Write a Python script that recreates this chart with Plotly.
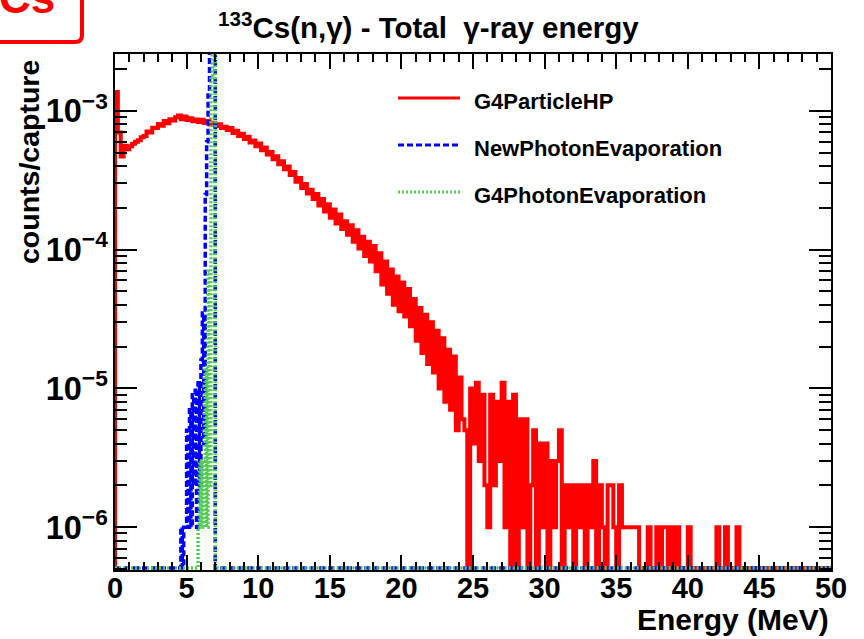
import plotly.graph_objects as go

# ---------------- data (counts/capture, in units of 1e-6) ----------------
UNIT = 1e-6
SERIES_NAMES = ["G4ParticleHP", "NewPhotonEvaporation", "G4PhotonEvaporation"]

# G4ParticleHP : 0.2 MeV bins from 0 to 50 MeV
RED_START = 0.0
RED_BIN = 0.2
RED_VALUES = [
    1370, 700, 470, 560, 530, 555, 580, 600, 615, 645,      # 0-2
    660, 710, 700, 755, 752, 805, 782, 845, 815, 870,       # 2-4
    852, 900, 925, 872, 910, 858, 884, 842, 868, 832,       # 4-6
    865, 818, 845, 798, 820, 778, 800, 752, 768, 728,       # 6-8
    752, 694, 720, 660, 684, 628, 650, 592, 612, 556,       # 8-10
    582, 520, 545, 484, 506, 449, 471, 412, 434, 380,       # 10-12
    397, 345, 363, 308, 328, 278, 297, 254, 270, 232,       # 12-14
    252, 208, 232, 188, 212, 170, 195, 154, 179, 141,       # 14-16
    160, 128, 150, 114, 138, 102, 124, 90, 114, 82,         # 16-18
    106, 70, 94, 56, 82, 48, 72, 40, 64, 36,                # 18-20
    58, 33, 52, 28, 44, 22, 38, 18, 34, 15,                 # 20-22
    30, 13, 26, 10, 23, 8, 19, 7, 17, 5,                    # 22-24
    12, 6, 5, 0, 10, 4, 11, 3, 9, 2,                        # 24-26
    1, 9, 2, 8, 3, 11, 1, 8, 0, 9,                          # 26-28
    0, 6, 1, 6, 0, 2, 5, 0, 4, 1,                           # 28-30
    4, 0, 3, 1, 3, 5, 0, 2, 1, 2,                           # 30-32
    0, 2, 1, 2, 0, 2, 1, 3, 0, 2,                           # 32-34
    1, 0, 2, 2, 1, 0, 2, 1, 1, 1,                           # 34-36
    1, 1, 1, 0, 0, 0, 1, 0, 0, 1,                           # 36-38
    0, 1, 1, 0, 1, 0, 1, 0, 0, 0,                           # 38-40
    1, 0, 0, 0, 0, 0, 0, 0, 0, 0,                           # 40-42
    1, 0, 0, 1, 0, 0, 0, 1, 0, 0,                           # 42-44
    0, 0, 0, 0, 0, 0, 0, 0, 0, 0,                           # 44-46
    0, 0, 0, 0, 0, 0, 0, 0, 0, 0,                           # 46-48
    0, 0, 0, 0, 0, 0, 0, 0, 0, 0,                           # 48-50
]

# NewPhotonEvaporation : 0.1 MeV bins, non-empty region only (4.5 - 7.0 MeV)
BLUE_START = 4.5
BLUE_BIN = 0.1
BLUE_VALUES = [0, 1, 0, 1, 1, 5, 1, 7, 1, 9, 2, 10, 1, 11, 2, 16,
               35, 4, 250, 600, 1300, 4000, 20000, 60000, 400000]

# G4PhotonEvaporation : 0.1 MeV bins, non-empty region only (5.8 - 7.0 MeV)
GREEN_START = 5.8
GREEN_BIN = 0.1
GREEN_VALUES = [1, 3, 1, 3, 1, 14, 1, 70, 2, 1800, 30000, 500000]

X_RANGE = [0, 50]
YMIN_LOG = -6.309
YMAX_LOG = -2.59
FLOOR = 10 ** (YMIN_LOG + 0.015)   # empty bins drawn on the frame bottom (ROOT style)


def step_xy(start, width, vals):
    n = len(vals)
    xs = [X_RANGE[0]] + [start + i * width for i in range(n)] + [start + n * width, X_RANGE[1]]
    ys = [FLOOR] + [v * UNIT if v > 0 else FLOOR for v in vals] + [FLOOR, FLOOR]
    return xs, ys


# ---------------- geometry helpers (pixel -> paper) ----------------
L, R, T, B = 115, 33, 54, 69
W, H = 864, 639
PW, PH = W - L - R, H - T - B


def px(x):
    return (x - L) / PW


def py(y):
    return (H - B - y) / PH


FONT = "Liberation Sans, Arial, Helvetica, sans-serif"

fig = go.Figure()
styles = [
    dict(color="#FF0000", width=4),
    dict(color="#0000FF", width=3.5, dash="6px,3px"),
    dict(color="#55CC55", width=3.5, dash="2px,2px"),
]
for (start, bw, vals), name, st in zip(
        [(RED_START, RED_BIN, RED_VALUES), (BLUE_START, BLUE_BIN, BLUE_VALUES),
         (GREEN_START, GREEN_BIN, GREEN_VALUES)], SERIES_NAMES, styles):
    xs, ys = step_xy(start, bw, vals)
    fig.add_trace(go.Scatter(x=xs, y=ys, mode="lines", name=name,
                             line=dict(shape="hv", **st), showlegend=False))

xtickfont = dict(family=FONT, size=29, color="black", weight="bold")
ytickfont = dict(family=FONT, size=26, color="black", weight="bold")
fig.update_xaxes(range=X_RANGE, tick0=0, dtick=5, ticks="inside", ticklen=15, tickwidth=1.5,
                 tickcolor="black", showline=True, linewidth=2, linecolor="black",
                 mirror="ticks", showgrid=False, zeroline=False, tickfont=xtickfont,
                 ticklabelstandoff=-9,
                 minor=dict(dtick=1, ticks="inside", ticklen=8, tickwidth=1.5, tickcolor="black"))
fig.update_yaxes(type="log", range=[YMIN_LOG, YMAX_LOG], dtick=1, exponentformat="power",
                 ticks="inside", ticklen=22, tickwidth=1.5, tickcolor="black",
                 showline=True, linewidth=2, linecolor="black", mirror="ticks",
                 showgrid=False, zeroline=False, tickfont=ytickfont, ticklabelstandoff=0,
                 minor=dict(dtick="D1", ticks="inside", ticklen=12, tickwidth=1.5, tickcolor="black"))

ann = []
ann.append(dict(text="<sup>133</sup>Cs(n,γ) - Total  γ-ray energy", x=px(428), y=py(26),
                xref="paper", yref="paper", xanchor="center", yanchor="middle", showarrow=False,
                font=dict(family=FONT, size=29.5, color="black", weight="bold")))
ann.append(dict(text="counts/capture", x=px(29), y=py(162), textangle=-90,
                xref="paper", yref="paper", xanchor="center", yanchor="middle", showarrow=False,
                font=dict(family=FONT, size=28.5, color="black", weight="bold")))
ann.append(dict(text="Energy (MeV)", x=px(831), y=py(619),
                xref="paper", yref="paper", xanchor="right", yanchor="middle", showarrow=False,
                font=dict(family=FONT, size=30, color="black", weight="bold")))

shapes = []
leg_y = [98, 145, 192]
for name, st, yy in zip(SERIES_NAMES, styles, leg_y):
    shapes.append(dict(type="line", xref="paper", yref="paper", x0=px(398), x1=px(460),
                       y0=py(yy), y1=py(yy), line=dict(color=st["color"], width=3,
                                                       dash=st.get("dash", "solid"))))
    ann.append(dict(text=name, x=px(472), y=py(yy + 3), xref="paper", yref="paper",
                    xanchor="left", yanchor="middle", showarrow=False,
                    font=dict(family=FONT, size=22, color="black", weight="bold")))

# cropped red "Cs" label box in the corner
bx0, bx1, by0, by1, rr = -20, 82, -20, 42, 7
path = (f"M {px(bx0)},{py(by1)} L {px(bx1 - rr)},{py(by1)} "
        f"Q {px(bx1)},{py(by1)} {px(bx1)},{py(by1 - rr)} L {px(bx1)},{py(by0)}")
shapes.append(dict(type="path", xref="paper", yref="paper", path=path,
                   line=dict(color="#FF0000", width=4)))
ann.append(dict(text="Cs", x=px(27), y=py(-3), xref="paper", yref="paper",
                xanchor="center", yanchor="middle", showarrow=False,
                font=dict(family=FONT, size=44, color="#FF0000", weight="bold")))

fig.update_layout(width=W, height=H, margin=dict(l=L, r=R, t=T, b=B),
                  paper_bgcolor="white", plot_bgcolor="white",
                  annotations=ann, shapes=shapes, showlegend=False)

fig.write_html("out.html")
